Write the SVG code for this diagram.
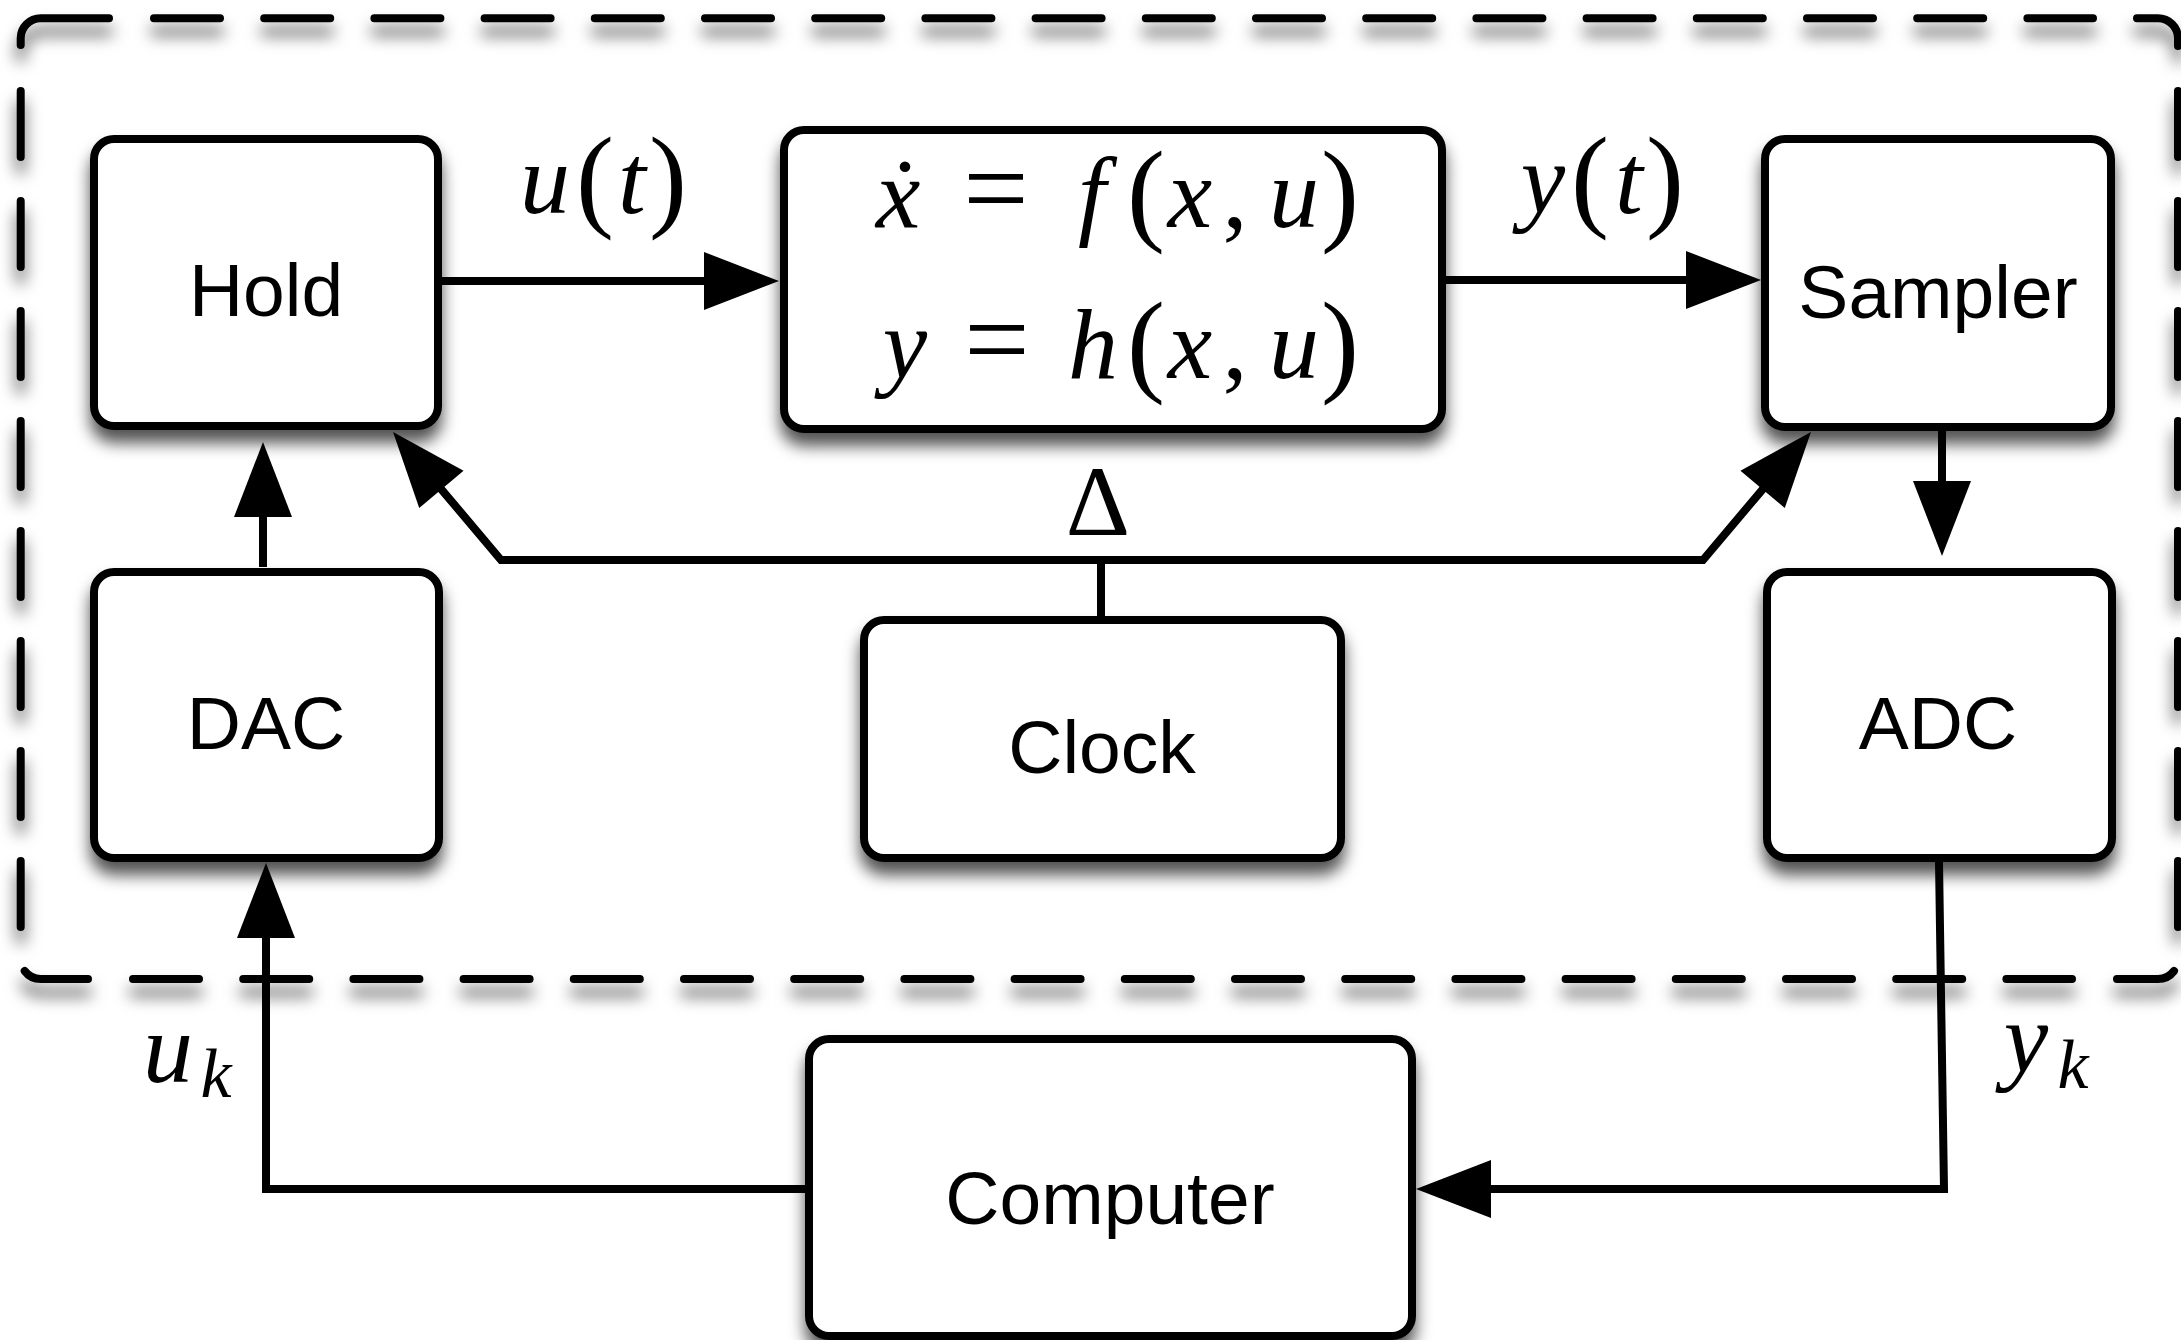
<svg xmlns="http://www.w3.org/2000/svg" width="2181" height="1340" viewBox="0 0 2181 1340">
<style>
.box{fill:#fff;stroke:#000;stroke-width:8;filter:url(#sh)}
.lbl{font-family:"Liberation Sans",Arial,Helvetica,sans-serif;font-size:75px;text-anchor:middle;fill:#000}
.m{font-family:"Liberation Serif","DejaVu Serif","Times New Roman",serif;font-style:italic;font-size:100px;text-anchor:middle;fill:#000}
.r{font-style:normal}
.eq{font-style:normal;font-size:116px}
.p{font-style:normal;font-size:114px}
.sub{font-size:70px}
.wire{fill:none;stroke:#000;stroke-width:8;stroke-linejoin:miter}
.arr{marker-end:url(#ah)}
.dash{fill:none;stroke:#000;stroke-width:8;stroke-linecap:round}
</style>
<defs>
<filter id="sh" x="-10%" y="-10%" width="120%" height="130%">
<feDropShadow dx="0" dy="13" stdDeviation="8" flood-color="#000" flood-opacity="0.68"/>
</filter>
<marker id="ah" viewBox="0 -29 75 58" refX="2" refY="0" markerWidth="75" markerHeight="58" markerUnits="userSpaceOnUse" orient="auto-start-reverse" overflow="visible">
<path d="M0,-29 L75,0 L0,29 Z" fill="#000"/>
</marker>
</defs>
<rect width="2181" height="1340" fill="#fff"/>

<g id="boundary" filter="url(#sh)">
<path class="dash" d="M20.7,45 V38.3 A20,20 0 0 1 40.7,18.3 H109"/>
<path class="dash" d="M154,18.3 H2093" stroke-dasharray="66 44.2"/>
<path class="dash" d="M2137,18.3 H2158 A20,20 0 0 1 2178,38.3 V46"/>
<path class="dash" d="M2178,91 V927" stroke-dasharray="66 44"/>
<path class="dash" d="M2117,979 H2158 A20,20 0 0 0 2174,971"/>
<path class="dash" d="M133,979 H2072" stroke-dasharray="66 44.2"/>
<path class="dash" d="M24.7,971 A20,20 0 0 0 40.7,979 H88"/>
<path class="dash" d="M20.7,91 V927" stroke-dasharray="66 44"/>
</g>

<g id="connectors">
<path class="wire arr" d="M442,281 H706"/>
<path class="wire arr" d="M1446,280 H1688"/>
<path class="wire arr" d="M1942,431 V483"/>
<path class="wire arr" d="M1939,862 L1944,1189 H1489"/>
<path class="wire arr" d="M805,1189 H266 V936"/>
<path class="wire arr" d="M263,567 V515"/>
<path class="wire" d="M1101,616 V560"/>
<path class="wire" d="M440.1,487.8 L501,560 H1703 L1763.9,487.8" marker-start="url(#ah)" marker-end="url(#ah)"/>
<text class="m"><tspan x="545" y="213">u</tspan><tspan class="p" x="595" y="216">(</tspan><tspan x="632" y="213">t</tspan><tspan class="p" x="668" y="216">)</tspan></text>
<text class="m"><tspan x="1543" y="213">y</tspan><tspan class="p" x="1590" y="216">(</tspan><tspan x="1629" y="213">t</tspan><tspan class="p" x="1665" y="216">)</tspan></text>
<text class="m r" x="1098" y="535">Δ</text>
<text class="m"><tspan x="168" y="1082">u</tspan><tspan class="sub" x="216" y="1097">k</tspan></text>
<text class="m"><tspan x="2026" y="1072">y</tspan><tspan class="sub" x="2073" y="1088">k</tspan></text>
</g>

<g id="hold">
<rect class="box" x="94" y="139" width="344" height="287" rx="20"/>
<text class="lbl" x="266" y="316">Hold</text>
</g>

<g id="plant">
<rect class="box" x="784" y="130" width="658" height="299" rx="20"/>
<text class="m"><tspan x="898" y="227">ẋ</tspan><tspan class="eq" x="996" y="227">=</tspan><tspan x="1092" y="227">f</tspan><tspan class="p" x="1146" y="230">(</tspan><tspan x="1190" y="227">x</tspan><tspan class="r" x="1235" y="227">,</tspan><tspan x="1294" y="227">u</tspan><tspan class="p" x="1340" y="230">)</tspan></text>
<text class="m"><tspan x="905" y="378">y</tspan><tspan class="eq" x="997" y="378">=</tspan><tspan x="1093" y="378">h</tspan><tspan class="p" x="1146" y="381">(</tspan><tspan x="1190" y="378">x</tspan><tspan class="r" x="1235" y="378">,</tspan><tspan x="1294" y="378">u</tspan><tspan class="p" x="1340" y="381">)</tspan></text>
</g>

<g id="sampler">
<rect class="box" x="1765" y="139" width="346" height="288" rx="20"/>
<text class="lbl" x="1938" y="318">Sampler</text>
</g>

<g id="dac">
<rect class="box" x="94" y="572" width="345" height="286" rx="20"/>
<text class="lbl" x="266" y="749">DAC</text>
</g>

<g id="clock">
<rect class="box" x="864" y="620" width="477" height="238" rx="20"/>
<text class="lbl" x="1102" y="773">Clock</text>
</g>

<g id="adc">
<rect class="box" x="1767" y="572" width="345" height="286" rx="20"/>
<text class="lbl" x="1938" y="749">ADC</text>
</g>

<g id="computer">
<rect class="box" x="809" y="1039" width="603" height="297" rx="20"/>
<text class="lbl" x="1110" y="1224">Computer</text>
</g>
</svg>
